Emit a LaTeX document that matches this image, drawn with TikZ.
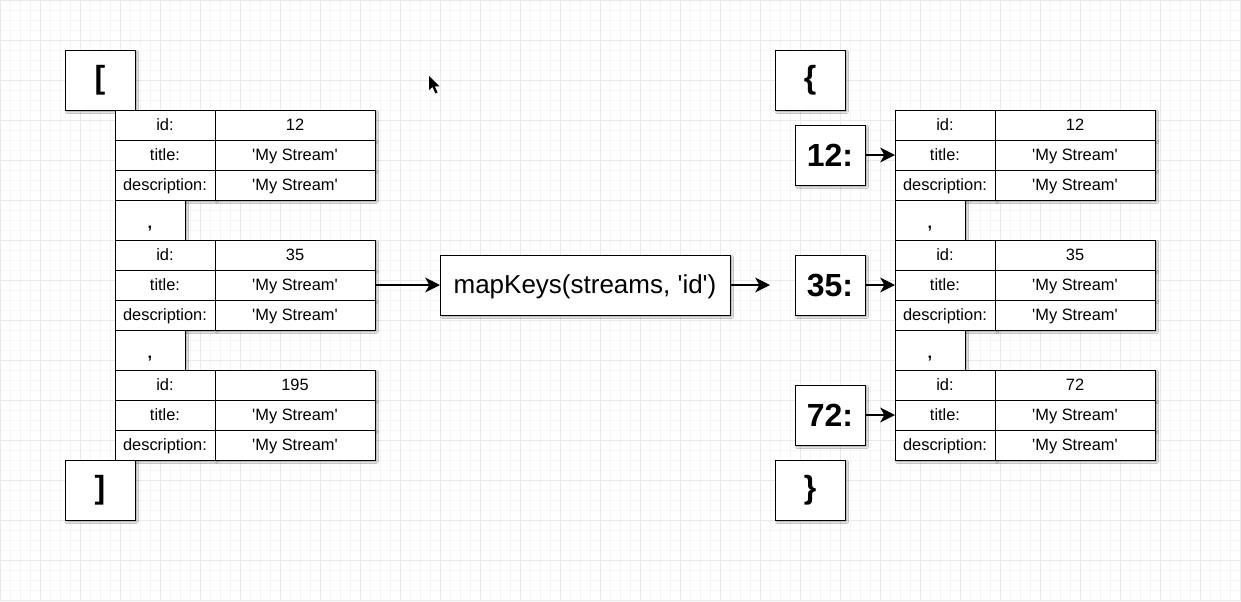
\documentclass[tikz,border=0pt]{standalone}
\usepackage{fontspec}
\setmainfont{Liberation Sans}[Ligatures=TeXOff]
\usetikzlibrary{arrows.meta,shadows.blur}

\definecolor{gridminor}{HTML}{F5F5F5}
\definecolor{gridmajor}{HTML}{E9E9E9}

\tikzset{
  px/.style={x=0.75pt,y=-0.75pt},
  box/.style={draw=black, line width=0.75pt, fill=white, inner sep=0pt, outer sep=0pt,
    blur shadow={shadow xshift=1.4pt, shadow yshift=-1.4pt, shadow blur radius=1.3pt,
      shadow blur steps=4, shadow opacity=40}},
  cellk/.style={box, minimum width=75pt, minimum height=22.5pt,
    font=\fontsize{12.3}{14}\selectfont, text height=9.2pt, text depth=1.4pt},
  cellv/.style={cellk, minimum width=120pt},
  sepbox/.style={box, minimum width=52.5pt, minimum height=30pt,
    font=\fontsize{12.3}{14}\selectfont\bfseries, text height=13pt, text depth=0pt},
  bracebox/.style={box, minimum width=52.5pt, minimum height=45pt,
    font=\fontsize{24}{28}\selectfont\bfseries},
  keybox/.style={box, minimum width=52.5pt, minimum height=45pt,
    font=\fontsize{24}{28}\selectfont\bfseries},
  funcbox/.style={box, minimum width=217.5pt, minimum height=45pt,
    font=\fontsize{19.5}{23}\selectfont, text height=15pt, text depth=2pt},
  link/.style={line width=2pt, -{Stealth[length=11pt, width=11pt, inset=3pt]}},
}

% one record: #1 name prefix, #2 left edge, #3 top edge, #4 id value
\newcommand\recordtable[4]{%
  \node[cellk] (#1-k1) at (#2+50,#3+15) {id:};
  \node[cellv] (#1-v1) at (#2+180,#3+15) {#4};
  \node[cellk] (#1-k2) at (#2+50,#3+45) {title:};
  \node[cellv] (#1-v2) at (#2+180,#3+45) {'My Stream'};
  \node[cellk] (#1-k3) at (#2+50,#3+75) {description:};
  \node[cellv] (#1-v3) at (#2+180,#3+75) {'My Stream'};
}

\begin{document}
\begin{tikzpicture}[px]
  \useasboundingbox (0,0) rectangle (1241,601);
  \fill[white] (0,0) rectangle (1241,601);

  % background grid
  \foreach \gx in {0,10,...,1240} \draw[gridminor, line width=0.6pt] (\gx,0) -- (\gx,601);
  \foreach \gy in {0,10,...,600} \draw[gridminor, line width=0.6pt] (0,\gy) -- (1241,\gy);
  \foreach \gx in {0,40,...,1240} \draw[gridmajor, line width=0.6pt] (\gx,0) -- (\gx,601);
  \foreach \gy in {0,40,...,600} \draw[gridmajor, line width=0.6pt] (0,\gy) -- (1241,\gy);

  % array of streams
  \node[bracebox] (lopen) at (100,80) {[};
  \recordtable{a}{115}{110}{12}
  \node[sepbox] (acomma1) at (150,220) {,};
  \recordtable{b}{115}{240}{35}
  \node[sepbox] (acomma2) at (150,350) {,};
  \recordtable{c}{115}{370}{195}
  \node[bracebox] (lclose) at (100,490) {]};

  % transformation
  \node[funcbox] (func) at (585,285) {mapKeys(streams, 'id')};
  \coordinate (outend) at (770,285);
  \draw[link] (b-v2.east) -- (func.west);
  \draw[link] (func.east) -- (outend);

  % object keyed by id
  \node[bracebox] (ropen) at (810,80) {\{};
  \recordtable{p}{895}{110}{12}
  \node[sepbox] (ocomma1) at (930,220) {,};
  \recordtable{q}{895}{240}{35}
  \node[sepbox] (ocomma2) at (930,350) {,};
  \recordtable{r}{895}{370}{72}
  \node[bracebox] (rclose) at (810,490) {\}};

  \node[keybox] (key12) at (830,155) {12:};
  \node[keybox] (key35) at (830,285) {35:};
  \node[keybox] (key72) at (830,415) {72:};
  \draw[link] (key12) -- (p-k2);
  \draw[link] (key35) -- (q-k2);
  \draw[link] (key72) -- (r-k2);

  % mouse pointer
  \fill[black] (429,76) -- (429,90) -- (432.5,87) -- (435.5,93.5) -- (437.5,92.5)
    -- (434.8,86.3) -- (439.5,86.3) -- cycle;
\end{tikzpicture}
\end{document}
